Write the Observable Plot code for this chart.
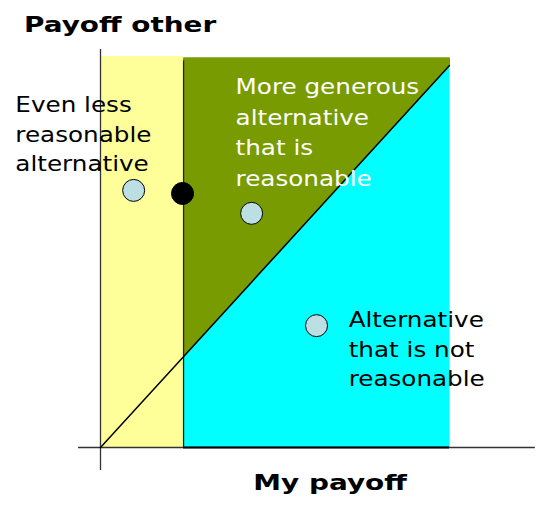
<!DOCTYPE html>
<html>
<head>
<meta charset="utf-8">
<script src="https://cdn.jsdelivr.net/npm/d3@7"></script>
<script src="https://cdn.jsdelivr.net/npm/@observablehq/plot@0.6"></script>
<style>
  body { margin: 0; background: white; }
</style>
</head>
<body>
<script>
// ---- data (payoff units) ----
const maxPayoff = 10;          // my payoff / other payoff at end of diagonal
const reasonableMin = 2.38;    // minimum "reasonable" payoff for me
const yellowTop = 10.25;
const greenTop = 10.2;

const altMine  = [0.95, 2.35, 4.33, 6.19];
const altOther = [6.73, 6.65, 6.13, 3.19];
const altKind  = ["less", "threshold", "generous", "unreasonable"];

const labelText = ["Even less\nreasonable\nalternative",
                   "More generous\nalternative\nthat is\nreasonable",
                   "Alternative\nthat is not\nreasonable"];
const labelMine  = [-2.44, 3.87, 7.11];
const labelOther = [9.33, 9.83, 3.70];

const axisTitles = ["Payoff other", "My payoff"];
const titleMine  = [-2.19, 4.38];
const titleOther = [11.26, -0.74];

// ---- derived geometry ----
const yellow = [[0,0],[reasonableMin,0],[reasonableMin,yellowTop],[0,yellowTop]];
const green = [[reasonableMin,reasonableMin],[reasonableMin,greenTop],[maxPayoff,greenTop],[maxPayoff,maxPayoff]];
const cyan = [[reasonableMin,0],[maxPayoff,0],[maxPayoff,maxPayoff],[reasonableMin,reasonableMin]];
const alts = altMine.map((m,i)=>({mine:m, other:altOther[i], kind:altKind[i]}));
const labels = labelText.map((t,i)=>({text:t, mine:labelMine[i], other:labelOther[i], i}));
const titles = axisTitles.map((t,i)=>({text:t, mine:titleMine[i], other:titleOther[i]}));

const chart = Plot.plot({
  width: 536, height: 505,
  marginLeft: 100, marginRight: 87, marginTop: 65, marginBottom: 58,
  x: {domain: [0, maxPayoff], axis: null},
  y: {domain: [0, maxPayoff], axis: null},
  style: {fontFamily: "'DejaVu Sans', Verdana, sans-serif", background: "white", overflow: "visible"},
  marks: [
    Plot.geo({type:"Polygon", coordinates:[[...yellow, yellow[0]]]}, {fill:"#ffff99", stroke:"none"}),
    Plot.line([...green, green[0]], {x:d=>d[0], y:d=>d[1], fill:"#779b00", stroke:"#779b00", strokeWidth:1}),
    Plot.line([...cyan, cyan[0]], {x:d=>d[0], y:d=>d[1], fill:"#00ffff", stroke:"none"}),
    // axes
    Plot.ruleY([0], {x1: -0.63, x2: 12.46, stroke:"#333", strokeWidth:1.3}),
    Plot.ruleY([0], {x1: reasonableMin, x2: maxPayoff, stroke:"#000", strokeWidth:2}),
    Plot.ruleX([0], {y1: -0.6, y2: 10.42, stroke:"#333", strokeWidth:1.3}),
    Plot.ruleX([reasonableMin], {y1: 0, y2: greenTop - 0.08, stroke:"#222", strokeWidth:1.3}),
    // diagonal: equal payoffs
    Plot.line([[0,0],[maxPayoff,maxPayoff]], {x:d=>d[0], y:d=>d[1], stroke:"#000", strokeWidth:1.5}),
    // alternatives
    Plot.dot(alts, {x:"mine", y:"other", r:11,
      fill: d => d.kind === "threshold" ? "#000" : "#bcdfe3",
      stroke:"#000", strokeWidth:1}),
    // labels
    Plot.text(labels.filter(d => d.i !== 1), {x:"mine", y:"other", text:"text", textAnchor:"start", lineAnchor:"top",
      fontSize:22, lineHeight: 1.34, fill: "black"}),
    Plot.text(labels.filter(d => d.i === 1), {x:"mine", y:"other", text:"text", textAnchor:"start", lineAnchor:"top",
      fontSize:22, lineHeight: 1.4, fill: "white"}),
    Plot.text(titles, {x:"mine", y:"other", text:"text", textAnchor:"start", lineAnchor:"top",
      fontSize: 20.5, fontWeight:"bold", fill:"black"})
  ]
});
document.body.append(chart);

// widen glyphs horizontally to match the wide original face
chart.querySelectorAll("text").forEach(t => {
  const w = parseInt(getComputedStyle(t).fontWeight, 10);
  const f = w >= 600 ? 1.36 : 1.12;
  const spans = t.querySelectorAll("tspan");
  const targets = spans.length ? Array.from(spans) : [t];
  targets.forEach(el => {
    const L = el.getComputedTextLength();
    el.setAttribute("textLength", (L * f).toFixed(1));
    el.setAttribute("lengthAdjust", "spacingAndGlyphs");
  });
});
</script>
</body>
</html>
